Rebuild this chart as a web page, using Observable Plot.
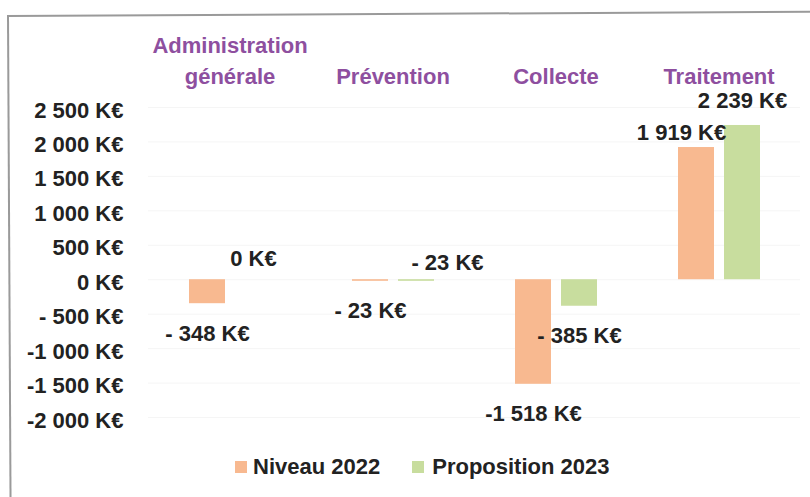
<!DOCTYPE html>
<html>
<head>
<meta charset="utf-8">
<script src="https://cdn.jsdelivr.net/npm/d3@7"></script>
<script src="https://cdn.jsdelivr.net/npm/@observablehq/plot@0.6"></script>
<style>
  html, body { margin: 0; padding: 0; background: #fff; }
  #wrap { position: relative; width: 810px; height: 497px; overflow: hidden; background: #fff; }
  #frame { position: absolute; left: 7px; top: 15px; width: 830px; height: 510px;
           border-top: 2px solid #9a9a9a; border-left: 2px solid #9a9a9a;
           transform: rotate(-0.3deg); transform-origin: 0 0; }
  #chart { position: absolute; left: 0; top: 0; }
  #legend { position: absolute; left: 235px; top: 454px; display: flex; align-items: center;
            font-family: "Liberation Sans", Arial, sans-serif; font-weight: bold; font-size: 22px; color: #222; }
  .item { display: flex; align-items: center; }
  .sw { width: 12px; height: 12px; margin-right: 6px; }
</style>
</head>
<body>
<div id="wrap">
  <div id="frame"></div>
  <div id="chart"></div>
  <div id="legend"></div>
</div>
<script>
const categories = ["Administration générale", "Prévention", "Collecte", "Traitement"];
const categoryLabels = ["Administration\ngénérale", "Prévention", "Collecte", "Traitement"];
const series = ["Niveau 2022", "Proposition 2023"];
const niveau2022 = [-348, -23, -1518, 1919];
const proposition2023 = [0, -23, -385, 2239];
const yTicks = [2500, 2000, 1500, 1000, 500, 0, -500, -1000, -1500, -2000];
const yTickLabels = ["2 500 K€", "2 000 K€", "1 500 K€", "1 000 K€", "500 K€", "0 K€", "- 500 K€", "-1 000 K€", "-1 500 K€", "-2 000 K€"];
const colors = ["#f8b990", "#c8dd9e"];

function fmt(v) {
  const a = Math.abs(v);
  const s = d3.format(",")(a).replace(/,/g, " ");
  if (v < 0) return "-" + (a < 1000 ? " " : "") + s + " K€";
  return s + " K€";
}

const rows = [];
categories.forEach((c, i) => {
  rows.push({category: c, series: series[0], value: niveau2022[i]});
  rows.push({category: c, series: series[1], value: proposition2023[i]});
});

const isNearZero23 = d => d.series === series[1] && d.value < 0 && d.value > -100;
const below = rows.filter(d => d.value < 0 && !isNearZero23(d));
const zeroLbl = rows.filter(d => d.value === 0);
const near23 = rows.filter(isNearZero23);
const pos22 = rows.filter(d => d.value > 0 && d.series === series[0]);
const pos23 = rows.filter(d => d.value > 0 && d.series === series[1]);

const textOpts = {fx: "category", x: "series", y: "value", text: d => fmt(d.value), fill: "#222"};

const chart = Plot.plot({
  width: 810,
  height: 440,
  marginTop: 107,
  marginBottom: 23,
  marginLeft: 147,
  marginRight: 10,
  style: {fontFamily: "'Liberation Sans', Arial, sans-serif", fontSize: "22px", fontWeight: "bold", color: "#222", background: "transparent"},
  fx: {domain: categories, padding: 0, axis: null},
  x: {domain: series, paddingInner: 10 / 46, paddingOuter: 0.88, axis: null},
  y: {domain: [-2000, 2500], axis: null},
  color: {domain: series, range: colors},
  marks: [
    Plot.gridY(yTicks, {stroke: "#f5f5f5", strokeOpacity: 1}),
    Plot.axisY(yTicks, {tickSize: 0, tickPadding: 25, dy: 3, tickFormat: d => yTickLabels[yTicks.indexOf(d)], label: null, fill: "#222"}),
    Plot.barY(rows, {fx: "category", x: "series", y: "value", fill: "series"}),
    Plot.text(below, {...textOpts, dy: 30}),
    Plot.text(zeroLbl, {...textOpts, dy: -21}),
    Plot.text(near23, {...textOpts, dy: -18, dx: 31}),
    Plot.text(pos22, {...textOpts, dy: -15, dx: -15}),
    Plot.text(pos23, {...textOpts, dy: -25}),
    Plot.text(categories, {fx: d => d, frameAnchor: "top", text: d => categoryLabels[categories.indexOf(d)],
      lineAnchor: "bottom", lineHeight: 1.4, dy: -24, fill: "#8e4f9f"})
  ]
});
document.getElementById("chart").appendChild(chart);

const legend = document.getElementById("legend");
series.forEach((s, i) => {
  const item = document.createElement("div");
  item.className = "item";
  if (i > 0) item.style.marginLeft = "32px";
  const sw = document.createElement("div");
  sw.className = "sw";
  sw.style.background = colors[i];
  if (i > 0) sw.style.marginRight = "8px";
  const t = document.createElement("span");
  t.textContent = s;
  item.appendChild(sw);
  item.appendChild(t);
  legend.appendChild(item);
});
</script>
</body>
</html>
